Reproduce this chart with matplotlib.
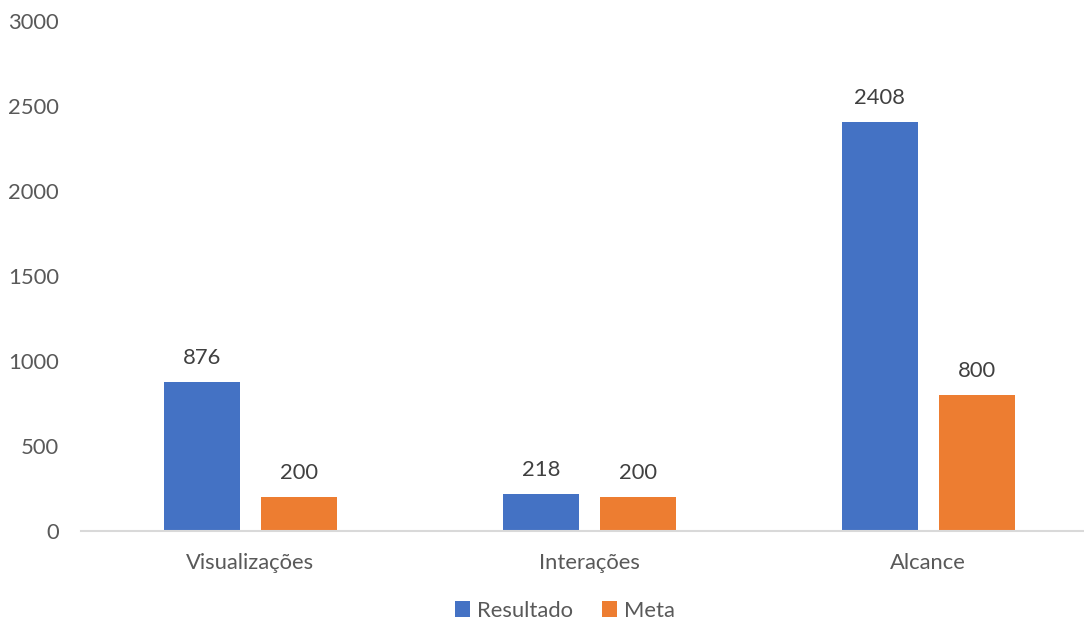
import numpy as np
import matplotlib
matplotlib.use("Agg")
import matplotlib.pyplot as plt

categorias = ["Visualizações", "Interações", "Alcance"]
resultado = [876, 218, 2408]
meta = [200, 200, 800]
y_ticks = [0, 500, 1000, 1500, 2000, 2500, 3000]

azul = "#4472C4"
laranja = "#ED7D31"

plt.rcParams['font.family'] = ['Lato', 'DejaVu Sans']

fig = plt.figure(figsize=(10.84, 6.23), dpi=100)
ax = fig.add_axes([0.0747, 0.1477, 0.938, 0.8186])

x = np.arange(len(categorias))
w = 0.224
off = 0.143
b1 = ax.bar(x - off, resultado, w, color=azul, label="Resultado")
b2 = ax.bar(x + off, meta, w, color=laranja, label="Meta")

# rótulos de valor acima das barras
for barras in (b1, b2):
    for b in barras:
        h = b.get_height()
        ax.annotate(f"{h:.0f}", (b.get_x() + b.get_width() / 2, h),
                    xytext=(0, 17), textcoords="offset points",
                    ha="center", va="center", fontsize=15.8, color="#404040")

ax.set_xlim(-0.5, 2.5)
ax.set_ylim(0, 3000)
ax.set_yticks(y_ticks)
ax.set_xticks(x)
ax.set_xticklabels(categorias)
ax.tick_params(axis="y", length=0, pad=16, labelsize=15.8, labelcolor="#595959")
ax.tick_params(axis="x", length=0, pad=16, labelsize=15.8, labelcolor="#595959")

for s in ("top", "right", "left"):
    ax.spines[s].set_visible(False)
ax.spines["bottom"].set_color("#d9d9d9")
ax.spines["bottom"].set_linewidth(1.5)

fig.legend(loc="center", bbox_to_anchor=(0.521, 0.02), ncol=2, frameon=False,
           fontsize=15.8, handlelength=0.7, handleheight=0.7, handletextpad=0.3,
           columnspacing=1.3, labelcolor="#595959", borderpad=0.1)

fig.savefig("out.png", dpi=100)
